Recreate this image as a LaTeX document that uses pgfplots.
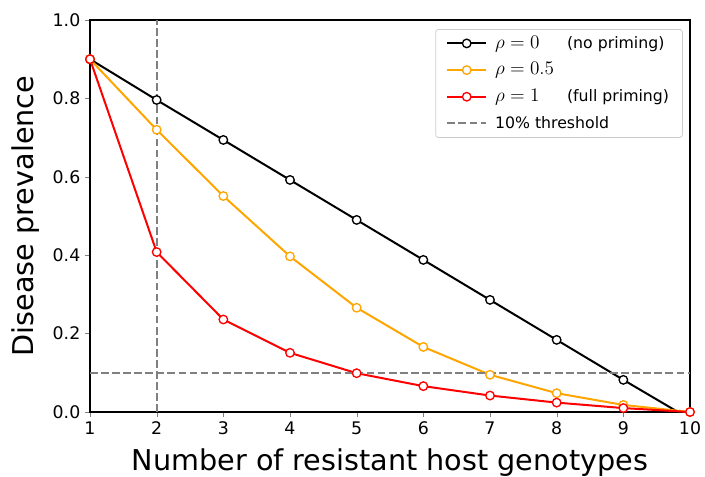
\documentclass[border=0pt]{standalone}
\usepackage{fontspec}
\setmainfont{DejaVu Sans}
\usepackage{pgfplots}
\pgfplotsset{compat=1.18}
\definecolor{mplorange}{HTML}{FFA500}
\definecolor{mplgray}{HTML}{808080}
\newcommand{\rh}[1]{\fontsize{15}{15}\selectfont$\rho=#1$}
\begin{document}
\begin{tikzpicture}
\begin{axis}[
    scale only axis,
    width=450pt, height=294pt,
    xmin=1, xmax=10, ymin=0, ymax=1,
    xtick={1,...,10},
    ytick={0,0.2,0.4,0.6,0.8,1.0},
    yticklabel style={/pgf/number format/.cd, fixed, fixed zerofill, precision=1},
    /pgf/number format/assume math mode=true,
    tick label style={font=\fontsize{13}{15}\selectfont},
    tick align=outside, tick pos=left,
    major tick length=3.75pt,
    axis line style={line width=0.8pt},
    xlabel={Number of resistant host genotypes},
    ylabel={Disease prevalence},
    label style={font=\fontsize{21.5}{24}\selectfont},
    xlabel style={at={(axis description cs:0.5,0)}, anchor=base, yshift=-44pt},
    ylabel style={at={(axis description cs:0,0.5)}, anchor=base, yshift=42pt},
    legend cell align=left,
    legend style={at={(0.988,0.977)}, anchor=north east,
        draw=black!20, rounded corners=2pt, line width=0.6pt,
        font=\fontsize{11.8}{14}\selectfont, row sep=1pt,
        inner xsep=8pt, inner ysep=1pt,
        nodes={text height=11pt, text depth=4pt}},
    legend image code/.code={
        \draw[mark repeat=2, mark phase=2] plot coordinates {(0pt,0pt) (14.5pt,0pt) (29pt,0pt)};},
    every axis plot/.append style={line width=1.5pt},
    mark options={fill=white, line width=1pt},
]
\addplot[black, mark=*, mark size=3.2pt] coordinates {
    (1,0.900) (2,0.796) (3,0.694) (4,0.592) (5,0.490)
    (6,0.388) (7,0.286) (8,0.184) (9,0.082) (10,-0.018)
};
\addlegendentry{\hspace{4pt}\makebox[54pt][l]{\rh{0}}(no priming)}
\addplot[mplorange, mark=*, mark size=3.2pt] coordinates {
    (1,0.900) (2,0.720) (3,0.551) (4,0.397) (5,0.266)
    (6,0.166) (7,0.095) (8,0.048) (9,0.018) (10,0.000)
};
\addlegendentry{\hspace{4pt}\rh{0.5}}
\addplot[red, mark=*, mark size=3.2pt] coordinates {
    (1,0.900) (2,0.408) (3,0.236) (4,0.151) (5,0.099)
    (6,0.066) (7,0.042) (8,0.024) (9,0.010) (10,0.000)
};
\addlegendentry{\hspace{4pt}\makebox[54pt][l]{\rh{1}}(full priming)}
\addplot[mplgray, line width=1.5pt, dash pattern=on 5.8pt off 2.5pt, forget plot]
    coordinates {(2,0) (2,1)};
\addplot[mplgray, line width=1.5pt, dash pattern=on 5.8pt off 2.5pt]
    coordinates {(1,0.1) (10,0.1)};
\addlegendentry{\hspace{4pt}10\% threshold}
\end{axis}
\pgfresetboundingbox
\useasboundingbox (-67.5pt,-48pt) rectangle (461.25pt,309pt);
\end{tikzpicture}
\end{document}
